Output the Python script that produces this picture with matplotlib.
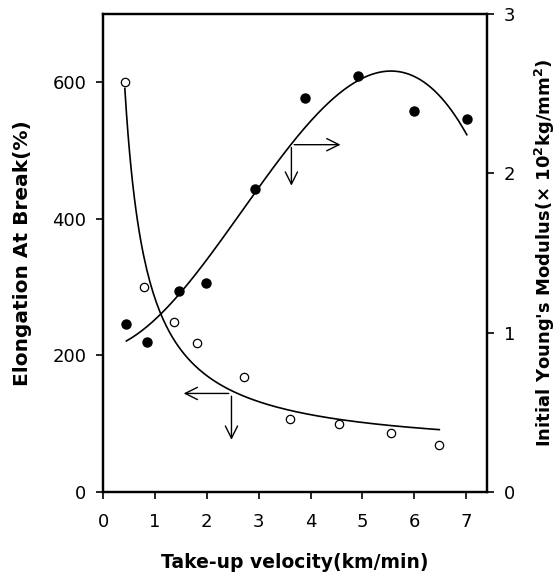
import matplotlib
matplotlib.use("Agg")
import matplotlib.pyplot as plt
import numpy as np

plt.rcParams['font.family'] = ['DejaVu Sans']

# elongation at break (open circles, left axis)
vel_elong = [0.42, 0.78, 1.36, 1.82, 2.71, 3.61, 4.54, 5.54, 6.48]
elong = [600, 300, 249, 218, 168, 107, 99, 86, 69]

# initial young's modulus (filled circles, right axis)
vel_mod = [0.45, 0.85, 1.47, 1.98, 2.93, 3.90, 4.91, 5.99, 7.01]
modulus = [1.055, 0.94, 1.26, 1.31, 1.90, 2.475, 2.61, 2.39, 2.34]

fig = plt.figure(figsize=(5.6, 5.76), dpi=100)
ax = fig.add_axes([0.184, 0.1464, 0.6857, 0.829])
ax2 = ax.twinx()

# fitted curves
xe = np.array(vel_elong)
c = np.polyfit(1.0 / xe, elong, 2)
xs = np.linspace(vel_elong[0], vel_elong[-1], 200)
ax.plot(xs, np.polyval(c, 1.0 / xs), color='black', lw=1.2)
ax.plot(vel_elong, elong, 'o', mfc='white', mec='black', ms=6, mew=0.9)

cm = np.polyfit(vel_mod, modulus, 3)
xm = np.linspace(vel_mod[0], vel_mod[-1], 200)
ax2.plot(xm, np.polyval(cm, xm), color='black', lw=1.2)
ax2.plot(vel_mod, modulus, 'o', color='black', ms=6.5)

# arrows
arr = dict(arrowstyle='->', color='black', lw=1.0, mutation_scale=22)
ax.annotate('', xy=(1.5, 144), xytext=(2.475, 144), arrowprops=arr)
ax.annotate('', xy=(2.475, 72), xytext=(2.475, 144), arrowprops=arr)
ax2.annotate('', xy=(4.63, 2.18), xytext=(3.63, 2.18), arrowprops=arr)
ax2.annotate('', xy=(3.63, 1.905), xytext=(3.63, 2.18), arrowprops=arr)

ax.set_xlim(0, 7.4)
ax.set_ylim(0, 700)
ax2.set_ylim(0, 3)
ax.set_xticks(range(8))
ax.set_yticks([0, 200, 400, 600])
ax2.set_yticks([0, 1, 2, 3])

for a in (ax, ax2):
    for s in a.spines.values():
        s.set_linewidth(1.6)
    a.tick_params(direction='out', length=5, width=1.2, labelsize=13, pad=7)
ax.tick_params(axis='x', pad=10)

ax.set_xlabel('Take-up velocity(km/min)', fontsize=13.5, fontweight='bold', labelpad=16)
ax.set_ylabel('Elongation At Break(%)', fontsize=14.5, fontweight='bold', labelpad=15)
ax2.set_ylabel("Initial Young's Modulus(× 10$^{\\mathbf{2}}$kg/mm$^{\\mathbf{2}}$)",
               fontsize=13, fontweight='bold', labelpad=13, rotation=90)

fig.savefig('out.png', dpi=100)
